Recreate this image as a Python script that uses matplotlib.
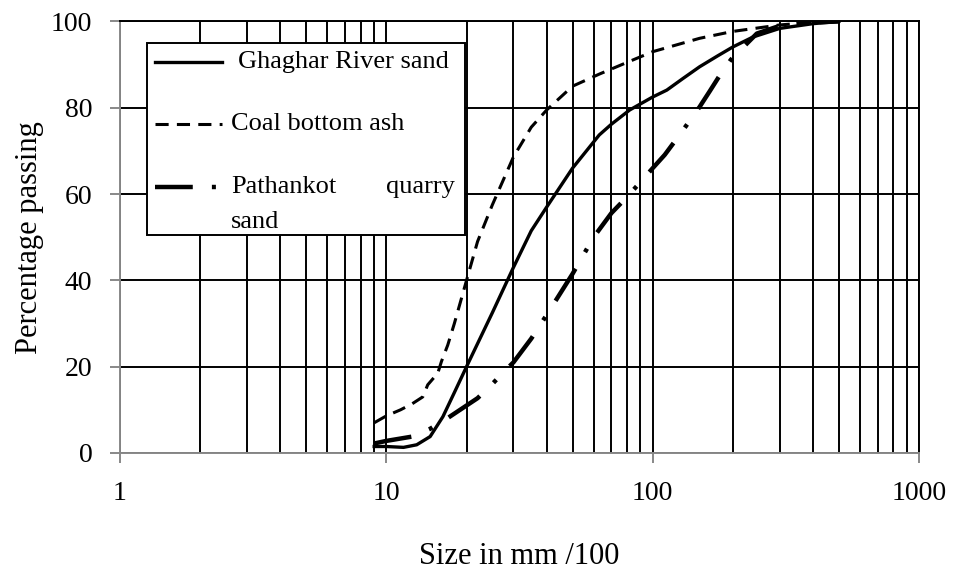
import matplotlib.pyplot as plt
from matplotlib.lines import Line2D
from matplotlib.patches import Rectangle
from matplotlib.ticker import FixedLocator, NullFormatter

plt.rcParams['font.family'] = ['Liberation Serif', 'DejaVu Serif']

# (size in mm/100, percentage passing)
river_size = [9, 10, 11.6, 13, 14.6, 16.3, 18, 20, 25, 30, 35, 40, 50, 63, 70,
              82, 100, 113, 130, 150, 175, 200, 238, 300, 400, 500]
river_pass = [1.5, 1.5, 1.3, 1.9, 3.8, 8.4, 14, 20, 32.5, 43, 51.5, 57, 66, 73.7, 76.2,
              79.5, 82.5, 84.1, 86.8, 89.5, 92, 94.1, 96.4, 98.4, 99.5, 100]

ash_size = [9, 10, 11.3, 12.5, 13.7, 14.3, 15.6, 16.1, 17, 18, 20, 22, 25, 30, 35,
            40, 50, 63, 80, 100, 150, 200, 300, 400, 500]
ash_pass = [7, 8.6, 10, 11.4, 13, 15.8, 18.5, 21.2, 25, 30, 40, 49, 57.5, 68.6, 75.5,
            79.5, 85, 87.8, 90.5, 93, 96.1, 97.7, 99.2, 99.8, 100]

quarry_size = [9, 10, 12.5, 14.6, 17, 20, 22, 25, 28, 30, 35, 40, 50, 60, 70, 80,
               90, 100, 111, 123, 136, 150, 164, 179, 197, 246, 300, 400, 500]
quarry_pass = [2.2, 2.8, 3.8, 5.6, 8.1, 11, 12.7, 16, 19.2, 21, 26.5, 32, 41.5, 50, 55.6, 59.3,
               62.8, 66, 69.1, 72.8, 76.5, 80.2, 83.9, 87.6, 91.2, 97.2, 99, 99.8, 100]

styles = {
    'river': dict(color='k', lw=2.4),
    'ash': dict(color='k', lw=2.2, dashes=(4.3, 2.7)),
    'quarry': dict(color='k', lw=3.2, dashes=(8.5, 4.3, 0.9, 4.3)),
}

fig = plt.figure(figsize=(9.55, 5.7), dpi=100)
ax = fig.add_axes([0.1257, 0.2053, 0.8366, 0.757])

ax.plot(river_size, river_pass, **styles['river'])
ax.plot(ash_size, ash_pass, **styles['ash'])
ax.plot(quarry_size, quarry_pass, **styles['quarry'])

ax.set_xscale('log')
ax.set_xlim(1, 1000)
ax.set_ylim(0, 100)
ax.set_yticks([0, 20, 40, 60, 80, 100])
ax.xaxis.set_minor_locator(FixedLocator(
    [m * 10 ** e for e in range(3) for m in range(2, 10)]))
ax.xaxis.set_minor_formatter(NullFormatter())
ax.set_xticks([1, 10, 100, 1000])
ax.set_xticklabels(['1', '10', '100', '1000'])

ax.grid(True, which='both', axis='x', color='k', lw=1.4)
ax.grid(True, which='major', axis='y', color='k', lw=1.4)
ax.set_axisbelow(True)

for side in ['left', 'bottom']:
    ax.spines[side].set_color('#888888')
    ax.spines[side].set_linewidth(1.4)
for side in ['top', 'right']:
    ax.spines[side].set_color('k')
    ax.spines[side].set_linewidth(1.4)
ax.tick_params(axis='both', which='major', color='#888888', width=1.4,
               length=7, labelsize=20, pad=13)
ax.tick_params(axis='x', which='minor', length=0)

ax.set_xlabel('Size in mm /100', fontsize=22, labelpad=26)
ax.set_ylabel('Percentage passing', fontsize=22, labelpad=5)

# legend box, drawn by hand so the wrapped label sits like the original
t = ax.transAxes
ax.add_patch(Rectangle((0.034, 0.505), 0.398, 0.445, transform=t, facecolor='white',
                       edgecolor='k', lw=1.4, zorder=5))
rows = [(0.906, 'river', 'Ghaghar River sand', 0.148),
        (0.762, 'ash', 'Coal bottom ash', 0.139),
        (0.616, 'quarry', 'Pathankot', 0.139)]
for y, key, text, tx in rows:
    ax.add_line(Line2D([0.044, 0.128], [y, y], transform=t, zorder=6, **styles[key]))
    ax.text(tx, y, text, transform=t, fontsize=19, va='center', ha='left', zorder=6)
ax.text(0.419, 0.616, 'quarry', transform=t, fontsize=19, va='center', ha='right', zorder=6)
ax.text(0.139, 0.536, 'sand', transform=t, fontsize=19, va='center', ha='left', zorder=6)

fig.savefig('out.png', dpi=100)
